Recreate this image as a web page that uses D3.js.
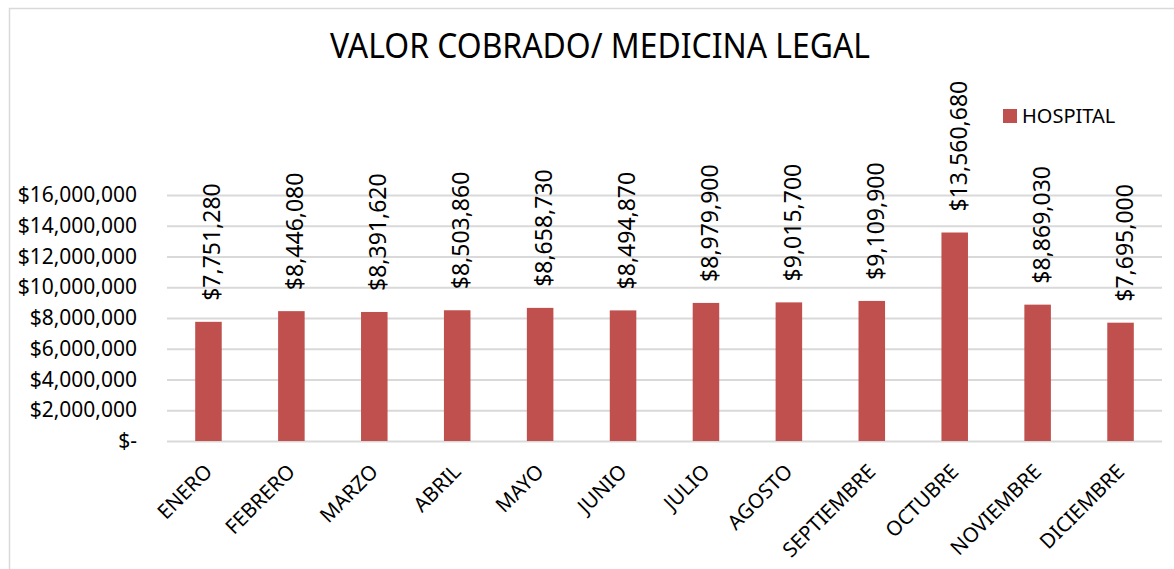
<!DOCTYPE html>
<html>
<head>
<meta charset="utf-8">
<script src="https://cdn.jsdelivr.net/npm/d3@7"></script>
<style>
  body { margin: 0; background: #fff; }
  text { font-family: "Noto Sans", "Open Sans", sans-serif; fill: #000; }
</style>
</head>
<body>
<div id="chart"></div>
<script>
// Chart data
var months = ["ENERO", "FEBRERO", "MARZO", "ABRIL", "MAYO", "JUNIO", "JULIO",
  "AGOSTO", "SEPTIEMBRE", "OCTUBRE", "NOVIEMBRE", "DICIEMBRE"];
var values = [7751280, 8446080, 8391620, 8503860, 8658730, 8494870, 8979900,
  9015700, 9109900, 13560680, 8869030, 7695000];
var yTicks = [0, 2000000, 4000000, 6000000, 8000000, 10000000, 12000000, 14000000, 16000000];
var seriesName = "HOSPITAL";
var chartTitle = "VALOR COBRADO/ MEDICINA LEGAL";

var svgWidth = 1174;
var svgHeight = 569;

var plot = { left: 167, right: 1162, top: 195, bottom: 441 };

var svg = d3.select("#chart")
  .append("svg")
  .attr("width", svgWidth)
  .attr("height", svgHeight);

// chart frame
svg.append("rect")
  .attr("x", 9.5)
  .attr("y", 8.5)
  .attr("width", svgWidth)
  .attr("height", svgHeight)
  .attr("fill", "none")
  .attr("stroke", "#d9d9d9")
  .attr("stroke-width", 1.5);

// scales
var x = d3.scaleBand()
  .domain(months)
  .range([plot.left, plot.right])
  .paddingInner(0.68)
  .paddingOuter(0.34);

var y = d3.scaleLinear()
  .domain([0, 16000000])
  .range([plot.bottom, plot.top]);

var money = d3.format("$,");

// gridlines + y labels
var yAxis = d3.axisLeft(y)
  .tickValues(yTicks)
  .tickSize(-(plot.right - plot.left))
  .tickPadding(30)
  .tickFormat(d => d === 0 ? "$-" : money(d));

var yAxisG = svg.append("g")
  .attr("transform", `translate(${plot.left}, 0)`)
  .call(yAxis);

yAxisG.select(".domain").remove();
yAxisG.selectAll(".tick line")
  .attr("stroke", "#d9d9d9")
  .attr("stroke-width", 2);
yAxisG.selectAll(".tick text")
  .style("font-size", "21px")
  .attr("fill", "#000");

// bars
svg.append("g")
  .selectAll("rect")
  .data(values)
  .enter()
  .append("rect")
  .attr("x", (d, i) => x(months[i]))
  .attr("y", d => y(d))
  .attr("width", x.bandwidth())
  .attr("height", d => y(0) - y(d))
  .attr("fill", "#c0504d");

// value labels (rotated)
svg.append("g")
  .selectAll("text")
  .data(values)
  .enter()
  .append("text")
  .attr("transform", (d, i) => {
    var cx = x(months[i]) + x.bandwidth() / 2;
    return `translate(${cx + 12}, ${y(d) - 21}) rotate(-90)`;
  })
  .attr("text-anchor", "start")
  .style("font-size", "23px")
  .text(d => money(d));

// category labels
svg.append("g")
  .selectAll("text")
  .data(months)
  .enter()
  .append("text")
  .attr("transform", d => {
    var cx = x(d) + x.bandwidth() / 2;
    return `translate(${cx + 5}, 473) rotate(-45)`;
  })
  .attr("text-anchor", "end")
  .style("font-size", "20.5px")
  .text(d => d);

// title
svg.append("text")
  .attr("x", 600)
  .attr("y", 58)
  .attr("text-anchor", "middle")
  .attr("textLength", 540)
  .attr("lengthAdjust", "spacingAndGlyphs")
  .style("font-size", "35px")
  .text(chartTitle);

// legend
var legend = svg.append("g")
  .attr("transform", "translate(1003, 109)");

legend.append("rect")
  .attr("width", 14)
  .attr("height", 14)
  .attr("fill", "#c0504d");

legend.append("text")
  .attr("x", 19)
  .attr("y", 14)
  .style("font-size", "20px")
  .text(seriesName);
</script>
</body>
</html>
